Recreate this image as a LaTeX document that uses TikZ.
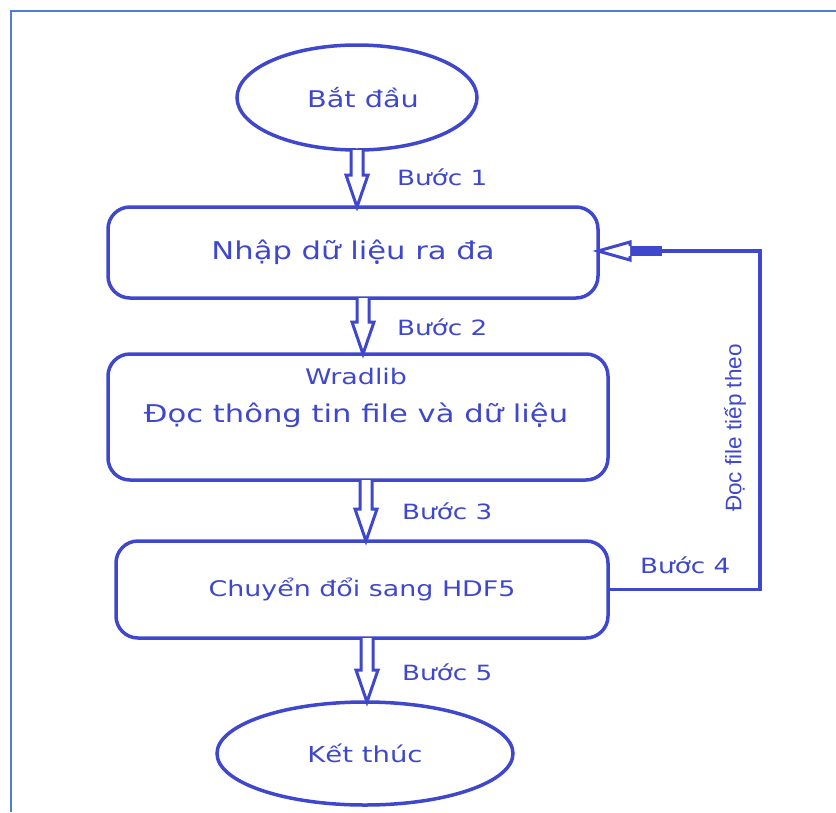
\documentclass[tikz,border=0pt]{standalone}
\usepackage{fontspec}
\usetikzlibrary{calc,shapes.geometric}
\newfontfamily\wf{DejaVu Sans}[FakeStretch=1.25]
\newfontfamily\af{Liberation Sans}
\definecolor{mb}{RGB}{63,72,204}
\definecolor{fb}{RGB}{80,125,215}
\newcommand\fs[2]{\fontsize{#1}{#2}\selectfont}
\newcommand\varrow[3]{\draw[arr] let \p1=(#2.south), \p2=(#3.north) in
  (#1pt-6pt,\y1) -- (#1pt-6pt,\y2+32pt) -- (#1pt-11pt,\y2+32pt) -- (#1pt,\y2)
  -- (#1pt+11pt,\y2+32pt) -- (#1pt+6pt,\y2+32pt) -- (#1pt+6pt,\y1);}
\begin{document}
\begin{tikzpicture}[x=1pt,y=-1pt,
  box/.style={draw=mb, line width=3.5pt, rounded corners=22pt, outer sep=0pt, inner sep=0pt, text=mb},
  oval/.style={ellipse, draw=mb, line width=3.5pt, outer sep=0pt, inner sep=0pt, text=mb},
  conn/.style={draw=mb, line width=3.5pt},
  arr/.style={draw=mb, line width=3pt, fill=white, line join=miter},
  lbl/.style={text=mb, font=\wf\fs{21}{25}, anchor=base west, inner sep=0pt}]
\useasboundingbox (0,0) rectangle (836,812);
\draw[fb, line width=2.5pt] (11,812) -- (11,11) -- (836,11);

\node[oval, minimum width=240pt, minimum height=105pt, font=\wf\fs{23}{28}] (start) at (357,97.5) {\hspace*{12pt}Bắt đầu};
\node[box, minimum width=490pt, minimum height=91pt, font=\wf\fs{24.5}{30}] (box1) at (353,252.5) {Nhập dữ liệu ra đa};
\node[box, minimum width=500pt, minimum height=126pt] (box2) at (358,417) {};
\node[text=mb, align=center, font=\wf\fs{24.5}{38}] (box2t) at (356,398) {{\fs{21.5}{38}Wradlib}\\Đọc thông tin file và dữ liệu};
\node[box, minimum width=492pt, minimum height=97pt, font=\wf\fs{21.5}{26}] (box3) at (362,589.5) {Chuyển đổi sang HDF5};
\node[oval, minimum width=296pt, minimum height=103pt, font=\wf\fs{22}{26}] (end) at (365,753.5) {Kết thúc};

\node[lbl] (b1) at (397,185) {Bước 1};
\node[lbl] (b2) at (397,335) {Bước 2};
\node[lbl] (b3) at (402,519) {Bước 3};
\node[lbl] (b4) at (640,573) {Bước 4};
\node[lbl] (b5) at (402,680) {Bước 5};
\node[text=mb, font=\af\fs{22.5}{26}, rotate=90] (loopt) at (735,428) {Đọc file tiếp theo};

\varrow{357}{start}{box1}
\varrow{363}{box1}{box2}
\varrow{366}{box2}{box3}
\varrow{367}{box3}{end}

\coordinate (lc) at (760,251);
\coordinate (le) at (662,251);
\draw[conn] (box3.east) -| (lc) -- (le);
\fill[mb] let \p1=(le), \p2=(box1.east) in (\x1,\y1-5pt) rectangle (\x2+32pt,\y1+5pt);
\draw[arr] let \p1=(le), \p2=(box1.east) in (\x2+32pt,\y1+5pt) -- (\x2+32pt,\y1+9pt) -- (\x2,\y1) -- (\x2+32pt,\y1-9pt) -- (\x2+32pt,\y1-5pt);
\end{tikzpicture}
\end{document}
